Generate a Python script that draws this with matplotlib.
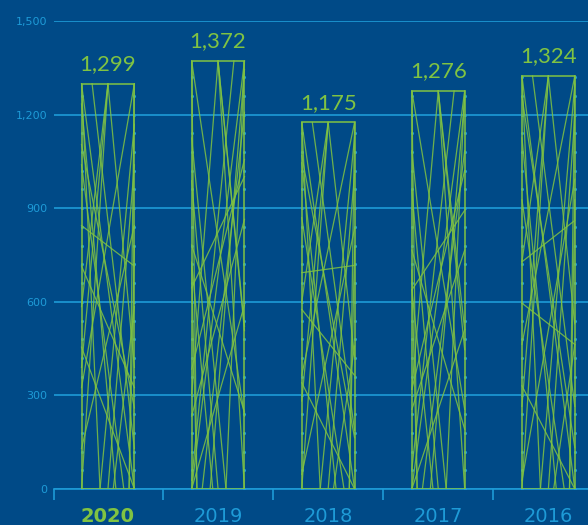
import numpy as np
import matplotlib.pyplot as plt

# 연도별 값
years = ["2020", "2019", "2018", "2017", "2016"]
values = [1299, 1372, 1175, 1276, 1324]
value_labels = ["1,299", "1,372", "1,175", "1,276", "1,324"]
yticks = [0, 300, 600, 900, 1200, 1500]
ytick_labels = ["0", "300", "600", "900", "1,200", "1,500"]

bg = "#004a87"
green = "#80c342"
blue = "#1e9bd7"

# 막대 안의 장식용 선 (막대 기준 비율 좌표: x0, y0, x1, y1)
pattern = [
    (0.0, 1.0, 1.0, 0.0), (0.0, 0.0, 0.5, 1.0), (0.5, 1.0, 1.0, 0.3),
    (1.0, 1.0, 0.0, 0.25), (0.0, 1.0, 0.35, 0.0), (0.35, 0.0, 1.0, 0.9),
    (0.0, 0.65, 1.0, 0.55), (0.0, 0.35, 1.0, 0.0), (0.5, 0.0, 1.0, 0.8),
    (0.0, 0.95, 0.65, 0.0), (1.0, 0.2, 0.0, 0.85), (0.0, 0.1, 1.0, 0.65),
    (1.0, 1.0, 0.9, 0.0), (0.9, 0.0, 1.0, 0.6), (0.0, 0.55, 1.0, 0.25),
    (0.5, 1.0, 0.0, 0.45), (1.0, 0.45, 0.6, 0.0), (0.0, 0.8, 0.8, 0.0),
    (0.2, 1.0, 1.0, 0.1), (0.0, 0.3, 0.5, 1.0),
]

fig = plt.figure(figsize=(5.88, 5.25), dpi=100, facecolor=bg)
ax = fig.add_axes([54 / 588, 36 / 525, 1 - 54 / 588, 468 / 525])
ax.set_facecolor(bg)

x = np.arange(len(years))
w = 0.48
ax.bar(x, values, width=w, facecolor="none", edgecolor=green, linewidth=1.1, zorder=3)

for i, v in enumerate(values):
    left = x[i] - w / 2
    shift = [0.0, 0.08, -0.06, 0.05, -0.1][i]
    for x0, y0, x1, y1 in pattern:
        if i % 2 == 1:
            x0, x1 = 1 - x0, 1 - x1
        if 0 < y0 < 1:
            y0 = min(max(y0 + shift, 0.02), 0.98)
        if 0 < y1 < 1:
            y1 = min(max(y1 - shift, 0.02), 0.98)
        ax.plot([left + x0 * w, left + x1 * w], [y0 * v, y1 * v],
                color=green, lw=0.9, alpha=0.85, zorder=3)
    dots = np.arange(0, v, 60)
    ax.plot(np.full(len(dots), left), dots, ".", color=blue, ms=2.5, zorder=2)
    ax.plot(np.full(len(dots), left + w), dots, ".", color=blue, ms=2.5, zorder=2)
    ax.text(x[i], v + 30, value_labels[i], ha="center", va="bottom",
            color=green, fontsize=16, family="Lato")

ax.set_ylim(0, 1500)
ax.set_xlim(-0.49, 4.36)
ax.set_yticks(yticks)
ax.set_yticklabels(ytick_labels)
ax.tick_params(axis="y", length=0, pad=5, labelsize=8, labelcolor=blue)
ax.grid(axis="y", color=blue, lw=1.2, zorder=0)

ax.set_xticks(x)
ax.set_xticklabels(years)
ax.set_xticks([-0.49, 0.5, 1.5, 2.5, 3.5], minor=True)
ax.tick_params(axis="x", which="major", length=0, pad=13, labelsize=14)
ax.tick_params(axis="x", which="minor", length=8, color=blue, width=1.2)
for i, lab in enumerate(ax.get_xticklabels()):
    lab.set_color(green if i == 0 else blue)
    if i == 0:
        lab.set_fontweight("bold")

for s in ["top", "right", "left"]:
    ax.spines[s].set_visible(False)
ax.spines["bottom"].set_color(blue)
ax.spines["bottom"].set_linewidth(1.2)

fig.savefig("out.png", dpi=100, facecolor=bg)
